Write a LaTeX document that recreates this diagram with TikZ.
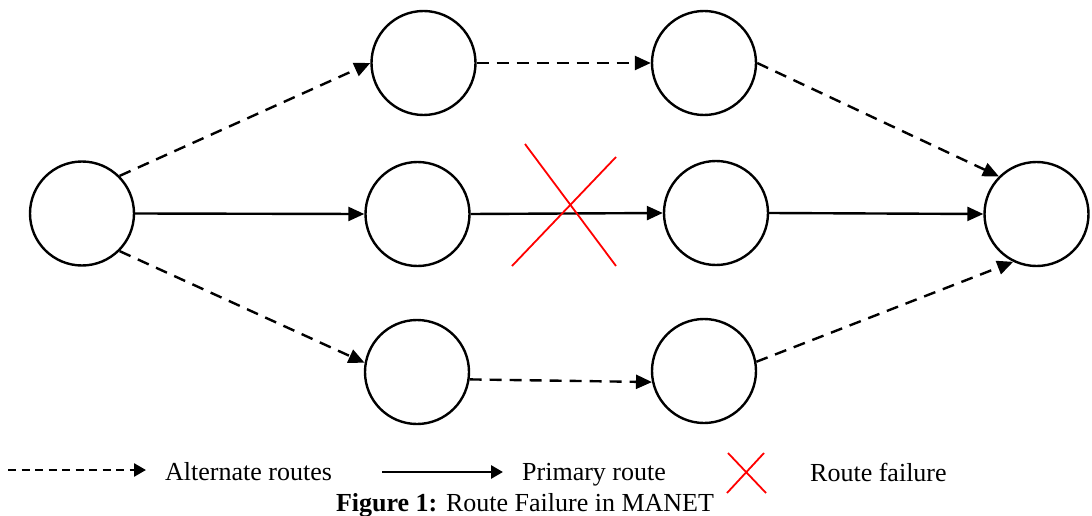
\documentclass[tikz,border=0pt]{standalone}
\usepackage{fontspec}
\setmainfont{Liberation Serif}
\usetikzlibrary{arrows.meta}
\begin{document}
\begin{tikzpicture}[x=1pt,y=-1pt,
  host/.style={circle,draw=black,line width=2.4pt,minimum size=104pt,inner sep=0pt,fill=white},
  alt/.style={line width=2.4pt,dash pattern=on 12pt off 8pt,-{Triangle[length=16pt,width=14pt]}},
  prim/.style={line width=2.4pt,-{Triangle[length=16pt,width=14pt]}},
  fail/.style={draw=red,line width=1.8pt},
  lbl/.style={inner sep=0pt,font=\fontsize{26}{30}\selectfont}]
\useasboundingbox (0,0) rectangle (1092,516);

% nodes of the network
\node[host] (S)  at (82,213.5) {};
\node[host] (A1) at (423.5,63) {};
\node[host] (A2) at (704,63) {};
\node[host] (M1) at (417.5,214) {};
\node[host] (M2) at (716,213) {};
\node[host] (B1) at (417,372) {};
\node[host] (B2) at (704,371) {};
\node[host] (D)  at (1036.5,214) {};

% alternate (upper) route
\draw[alt] (S.45) -- (A1.west);
\draw[alt] (A1.east) -- (A2.west);
\draw[alt] (A2.east) -- (D.135);

% primary route
\draw[prim] (S.east) -- (M1.west);
\draw[prim] (M1.east) -- (M2.west);
\draw[prim] (M2.east) -- (D.west);

% alternate (lower) route
\draw[alt] (S.-45) -- (B1.170);
\draw[alt] (B1.-8) -- (B2.192);
\draw[alt] (B2.10) -- (D.244);

% broken link marker
\coordinate (x1) at (525,144);
\coordinate (x2) at (616,266);
\coordinate (x3) at (616,157);
\coordinate (x4) at (512,266);
\draw[fail] (x1) -- (x2);
\draw[fail] (x3) -- (x4);

% legend
\coordinate (la1) at (8,470);
\coordinate (la2) at (146,470);
\draw[line width=2.6pt,dash pattern=on 8pt off 5.5pt,-{Triangle[length=12pt,width=13pt]}] (la1) -- (la2);
\node[lbl,anchor=base west] (lalt) at (165,480) {Alternate routes};

\coordinate (lp1) at (382,472);
\coordinate (lp2) at (503,472);
\draw[line width=2.8pt,-{Triangle[length=12pt,width=13pt]}] (lp1) -- (lp2);
\node[lbl,anchor=base west] (lprim) at (522,480) {Primary route};

\coordinate (lf1) at (728,453);
\coordinate (lf2) at (766,493);
\coordinate (lf3) at (764,453);
\coordinate (lf4) at (727,493);
\draw[fail] (lf1) -- (lf2);
\draw[fail] (lf3) -- (lf4);
\node[lbl,anchor=base west] (lfail) at (810,481) {Route failure};

% caption
\node[lbl,anchor=base] (cap) at (525,511) {\textbf{Figure 1:} Route Failure in MANET};
\end{tikzpicture}
\end{document}
